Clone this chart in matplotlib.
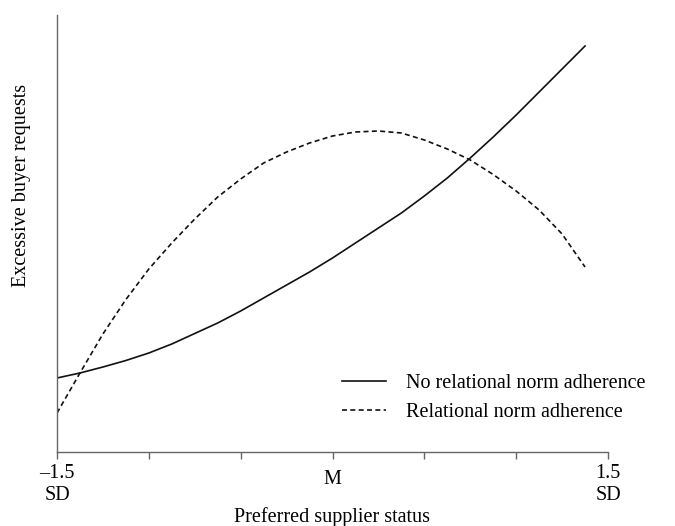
import matplotlib
matplotlib.use("Agg")
import matplotlib.pyplot as plt
from matplotlib.transforms import ScaledTranslation

plt.rcParams['font.family'] = ['Liberation Serif', 'DejaVu Serif']

# Data (x in SD units of preferred supplier status; y in arbitrary units)
x_vals = [-1.5, -1.375, -1.25, -1.125, -1.0, -0.875, -0.75, -0.625, -0.5, -0.375,
          -0.25, -0.125, 0.0, 0.125, 0.25, 0.375, 0.5, 0.625, 0.75, 0.875,
          1.0, 1.125, 1.25, 1.375]
no_norm = [0.74, 0.79, 0.85, 0.915, 0.99, 1.08, 1.185, 1.29, 1.41, 1.54,
           1.67, 1.80, 1.94, 2.09, 2.24, 2.39, 2.56, 2.74, 2.94, 3.15,
           3.37, 3.60, 3.83, 4.06]
norm = [0.39, 0.79, 1.18, 1.525, 1.83, 2.09, 2.33, 2.55, 2.73, 2.89,
        3.00, 3.09, 3.16, 3.20, 3.21, 3.19, 3.12, 3.03, 2.92, 2.775,
        2.61, 2.42, 2.18, 1.85]
series_labels = ["No relational norm adherence", "Relational norm adherence"]
tick_positions = [-1.5, -1.0, -0.5, 0.0, 0.5, 1.0, 1.5]
tick_labels = ["\u20131.5\nSD", "", "", "M", "", "", "1.5\nSD"]

W, H = 675, 526
FS = 14.5
fig = plt.figure(figsize=(W / 100, H / 100), dpi=100)
ax = fig.add_axes([57 / W, 1 - 452 / H, (608 - 57) / W, (452 - 15) / H])

ax.plot(x_vals, no_norm, color='#111111', lw=1.2, linestyle='-', label=series_labels[0])
ax.plot(x_vals, norm, color='#111111', lw=1.2, linestyle=(0, (3, 2)), label=series_labels[1])

ax.set_xlim(-1.5, 1.5)
ax.set_ylim(0, 4.37)
for s in ['top', 'right']:
    ax.spines[s].set_visible(False)
for s in ['left', 'bottom']:
    ax.spines[s].set_color('#666666')
    ax.spines[s].set_linewidth(1.0)

ax.set_yticks([])
ax.set_xticks(tick_positions)
ax.set_xticklabels(tick_labels, fontsize=FS, linespacing=1.15)
ax.tick_params(axis='x', direction='out', length=5, width=1.0, color='#666666', pad=4)

for lab in ax.get_xticklabels():
    if lab.get_text() == "M":
        lab.set_transform(lab.get_transform() + ScaledTranslation(0, -4 / 72, fig.dpi_scale_trans))

ax.set_xlabel("Preferred supplier status", fontsize=FS, labelpad=2)
ax.set_ylabel("Excessive buyer requests", fontsize=FS)
ax.yaxis.set_label_coords((31 - 57) / 551, (452 - 185) / 437)

leg = ax.legend(loc='upper left', bbox_to_anchor=(342 / W, 1 - 374 / H),
                bbox_transform=fig.transFigure, frameon=False, fontsize=FS,
                handlelength=2.2, handletextpad=1.0, labelspacing=0.5,
                borderpad=0, borderaxespad=0)

fig.savefig("out.png", dpi=100)
